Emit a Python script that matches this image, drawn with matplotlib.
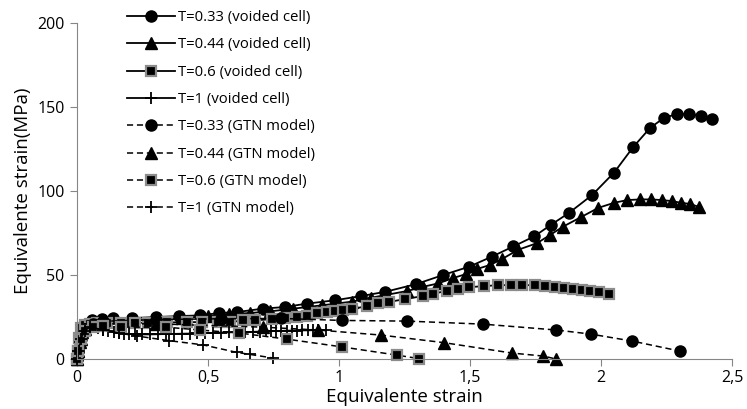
import matplotlib
matplotlib.use("Agg")
import matplotlib.pyplot as plt

plt.rcParams['font.family'] = ['Open Sans', 'DejaVu Sans']

# voided cell results
x_v033 = [0, 0.005, 0.01, 0.02, 0.03, 0.057, 0.095, 0.137, 0.21, 0.30, 0.39, 0.47, 0.542, 0.611, 0.71,
          0.794, 0.878, 0.985, 1.084, 1.176, 1.294, 1.397, 1.497, 1.584, 1.665, 1.745, 1.81, 1.878,
          1.966, 2.05, 2.122, 2.187, 2.24, 2.29, 2.336, 2.382, 2.424]
y_v033 = [0, 5, 10, 16, 20, 23, 23.8, 24.4, 24.4, 25, 25.6, 26, 27.4, 28, 30,
          31, 33, 35, 37.5, 40, 44.6, 50, 55, 61, 67, 73, 80, 87,
          97.6, 111, 126, 137.5, 143.5, 145.8, 145.8, 144.6, 142.9]

x_v044 = [0, 0.005, 0.01, 0.02, 0.03, 0.06, 0.1, 0.2, 0.3, 0.4, 0.5, 0.58, 0.66, 0.737, 0.825, 0.935,
          1.05, 1.122, 1.26, 1.32, 1.378, 1.435, 1.485, 1.527, 1.576, 1.622, 1.683, 1.756, 1.805,
          1.855, 1.924, 1.99, 2.05, 2.1, 2.149, 2.19, 2.233, 2.27, 2.305, 2.34, 2.374]
y_v044 = [0, 5, 10, 16, 20, 22, 22.5, 23, 23.5, 24.5, 25.5, 26.8, 27.4, 28.4, 30, 32,
          34.2, 36.5, 40.5, 43, 45, 48.2, 50.6, 53.6, 56, 59.5, 65, 69, 73.8,
          78.8, 84.5, 90, 93, 94.6, 95, 95, 94.6, 94, 93, 92.3, 90.5]

x_v06 = [0, 0.005, 0.008, 0.015, 0.03, 0.05, 0.076, 0.114, 0.168, 0.22, 0.271, 0.343, 0.42, 0.477,
         0.538, 0.584, 0.634, 0.68, 0.744, 0.794, 0.84, 0.878, 0.916, 0.954, 0.985, 1.015, 1.05,
         1.107, 1.149, 1.19, 1.252, 1.32, 1.359, 1.412, 1.454, 1.496, 1.553, 1.607, 1.656, 1.70,
         1.748, 1.786, 1.824, 1.859, 1.893, 1.927, 1.958, 1.992, 2.03]
y_v06 = [0, 5, 12.5, 18.5, 20, 21, 21.4, 21.4, 21.4, 21.5, 21.7, 21.8, 22, 22,
         22, 22, 23, 23, 23.8, 24.4, 25, 25.6, 27.4, 28, 28.6, 29.2, 29.8,
         31.5, 33.3, 34, 35.7, 37.5, 39, 40.5, 41.7, 42.8, 43.4, 44, 44, 44,
         44, 43.4, 42.8, 42.3, 41.5, 41, 40.5, 40, 39]

x_v1 = [0, 0.005, 0.01, 0.02, 0.03, 0.045, 0.06, 0.08, 0.1, 0.12, 0.14, 0.16, 0.18, 0.2, 0.22, 0.25,
        0.28, 0.31, 0.34, 0.37, 0.40, 0.43, 0.46, 0.49, 0.52, 0.55, 0.58, 0.61, 0.64, 0.67, 0.70,
        0.72, 0.74, 0.76, 0.78, 0.80, 0.82, 0.84, 0.86, 0.88, 0.90, 0.92, 0.95]
y_v1 = [0, 5, 10, 15, 18, 19, 19, 18.5, 17.5, 16.8, 16, 15.5, 15.2, 15, 14.8, 14.7,
        14.7, 14.8, 14.9, 15, 15.1, 15.2, 15.4, 15.5, 15.6, 15.8, 15.9, 16, 16.1, 16.2, 16.4,
        16.5, 16.6, 16.7, 16.8, 16.9, 17, 17, 17.1, 17.1, 17.2, 17.2, 17.3]

# GTN model results
x_g033 = [0, 0.005, 0.015, 0.03, 0.06, 0.1, 0.3, 0.55, 0.78, 1.01, 1.26, 1.55, 1.83, 1.96, 2.12, 2.30]
y_g033 = [0, 5, 12, 18, 21, 22.5, 23.5, 24, 24.2, 23, 22.6, 20.8, 17.3, 14.9, 10.7, 4.8]

x_g044 = [0, 0.005, 0.015, 0.03, 0.06, 0.1, 0.3, 0.71, 0.92, 1.16, 1.40, 1.66, 1.78, 1.83]
y_g044 = [0, 5, 12, 18, 20, 21, 21, 19, 17.3, 14.3, 9.8, 3.6, 1.8, 0]

x_g06 = [0, 0.005, 0.015, 0.03, 0.06, 0.1, 0.17, 0.34, 0.47, 0.62, 0.80, 1.01, 1.22, 1.305]
y_g06 = [0, 5, 12, 17, 19, 19.5, 19, 19, 17.3, 15.5, 11.9, 7.3, 2.4, 0.3]

x_g1 = [0, 0.005, 0.015, 0.03, 0.05, 0.1, 0.16, 0.23, 0.35, 0.48, 0.61, 0.66, 0.75]
y_g1 = [0, 5, 12, 17, 19, 17.5, 15.5, 13.7, 11, 8.5, 4, 2.8, 0.6]

x_ticks = [0, 0.5, 1, 1.5, 2, 2.5]
x_ticklabels = ['0', '0,5', '1', '1,5', '2', '2,5']
y_ticks = [0, 50, 100, 150, 200]

fig = plt.figure(figsize=(7.47, 4.09), dpi=100)
ax = fig.add_axes([0.103, 0.122, 0.877, 0.822])

dash = (0, (4, 2.5))
circ = dict(marker='o', markersize=8, color='black', markerfacecolor='black', markeredgecolor='black')
tri = dict(marker='^', markersize=8, color='black', markerfacecolor='black', markeredgecolor='black')
sq = dict(marker='s', markersize=7.5, color='black', markerfacecolor='black', markeredgecolor='#8c8c8c',
          markeredgewidth=1.6)
plus = dict(marker='+', markersize=8, color='black', markeredgewidth=1.3)

ax.plot(x_v033, y_v033, lw=1.3, label='T=0.33 (voided cell)', **circ)
ax.plot(x_v044, y_v044, lw=1.3, label='T=0.44 (voided cell)', **tri)
ax.plot(x_v06, y_v06, lw=1.3, label='T=0.6 (voided cell)', **sq)
ax.plot(x_v1, y_v1, lw=1.3, label='T=1 (voided cell)', **plus)
ax.plot(x_g033, y_g033, lw=1.1, ls=dash, label='T=0.33 (GTN model)', **circ)
ax.plot(x_g044, y_g044, lw=1.1, ls=dash, label='T=0.44 (GTN model)', **tri)
ax.plot(x_g06, y_g06, lw=1.1, ls=dash, label='T=0.6 (GTN model)', **sq)
ax.plot(x_g1, y_g1, lw=1.1, ls=dash, label='T=1 (GTN model)', **plus)

ax.set_xlim(0, 2.5)
ax.set_ylim(0, 200)
ax.set_xticks(x_ticks)
ax.set_xticklabels(x_ticklabels)
ax.set_yticks(y_ticks)
ax.tick_params(axis='both', direction='out', length=5, color='#868686', labelsize=11.5, pad=4)
ax.tick_params(axis='x', pad=3)
for side in ['top', 'right']:
    ax.spines[side].set_visible(False)
for side in ['left', 'bottom']:
    ax.spines[side].set_color('#868686')
for line in ax.lines:
    line.set_clip_on(False)

ax.set_xlabel('Equivalente strain', fontsize=13.5, labelpad=1)
ax.set_ylabel('Equivalente strain(MPa)', fontsize=13.5, labelpad=4)

ax.legend(loc='upper left', bbox_to_anchor=(0.162, 0.99), bbox_transform=fig.transFigure,
          frameon=False, fontsize=10.7, handlelength=3.23, handletextpad=0.2, labelspacing=0.83,
          borderaxespad=0)

fig.savefig('out.png', dpi=100)
